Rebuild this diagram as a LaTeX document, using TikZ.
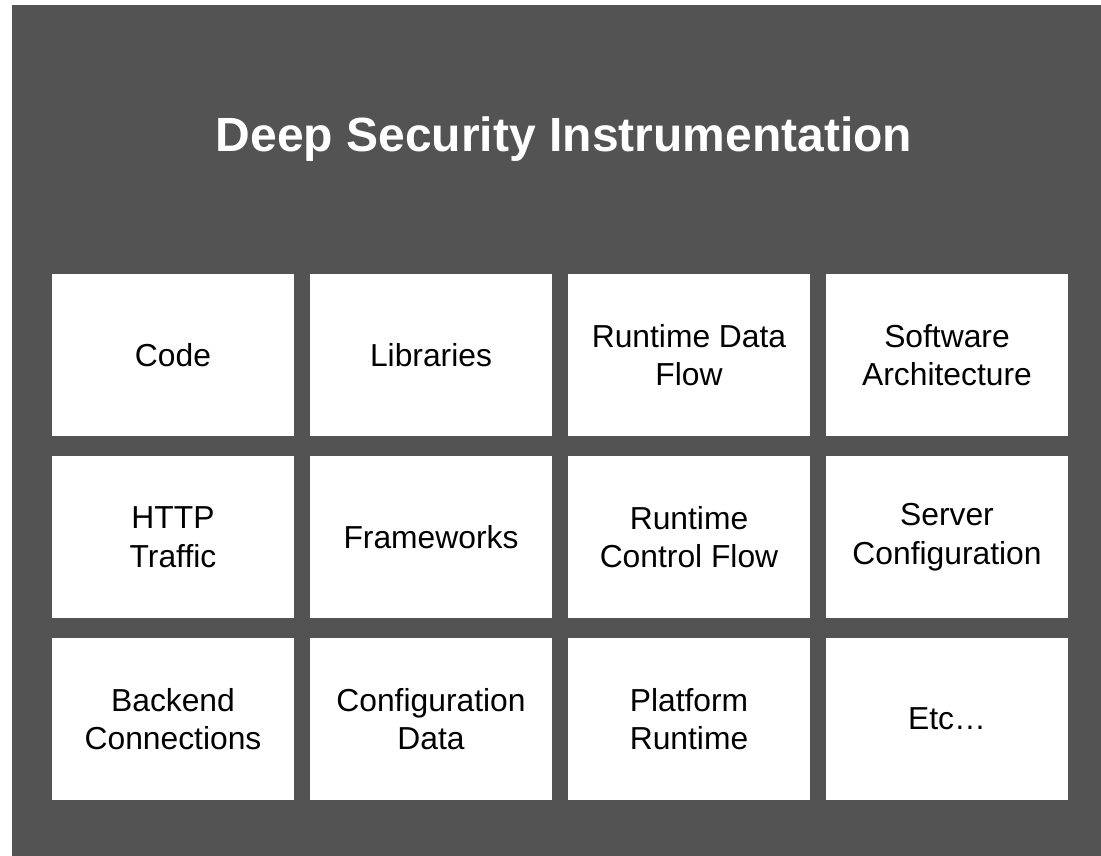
\documentclass[tikz,border=0pt]{standalone}
\usepackage{fontspec}
\setmainfont{Liberation Sans}
\definecolor{panelgray}{RGB}{83,83,83}
\tikzset{
  tile/.style={fill=white, draw=none, anchor=north west, inner sep=0pt, outer sep=0pt,
    minimum width=242pt, minimum height=162pt, align=center, text=black,
    font=\fontsize{31.8}{38.5}\selectfont},
  heading/.style={anchor=base, text=white, inner sep=0pt, font=\bfseries\fontsize{48}{56}\selectfont}
}
\begin{document}
\begin{tikzpicture}[x=1pt, y=-1pt]
  \useasboundingbox (0,0) rectangle (1101,856);
  % dark panel
  \fill[panelgray] (12,5) rectangle (1101,856);
  % heading
  \node[heading] (title) at (564,152) {Deep Security Instrumentation};
  % row 1
  \node[tile] (code)  at (52,274)  {Code};
  \node[tile] (libs)  at (310,274) {Libraries};
  \node[tile] (rdf)   at (568,274) {Runtime Data\\Flow};
  \node[tile] (arch)  at (826,274) {Software\\Architecture};
  % row 2
  \node[tile] (http)  at (52,456)  {HTTP\\Traffic};
  \node[tile] (fw)    at (310,456) {Frameworks};
  \node[tile] (rcf)   at (568,456) {Runtime\\Control Flow};
  \node[tile] (srv)   at (826,456) {Server\\Configuration};
  % row 3
  \node[tile] (back)  at (52,638)  {Backend\\Connections};
  \node[tile] (cfg)   at (310,638) {Configuration\\Data};
  \node[tile] (plat)  at (568,638) {Platform\\Runtime};
  \node[tile] (etc)   at (826,638) {Etc…};
\end{tikzpicture}
\end{document}
